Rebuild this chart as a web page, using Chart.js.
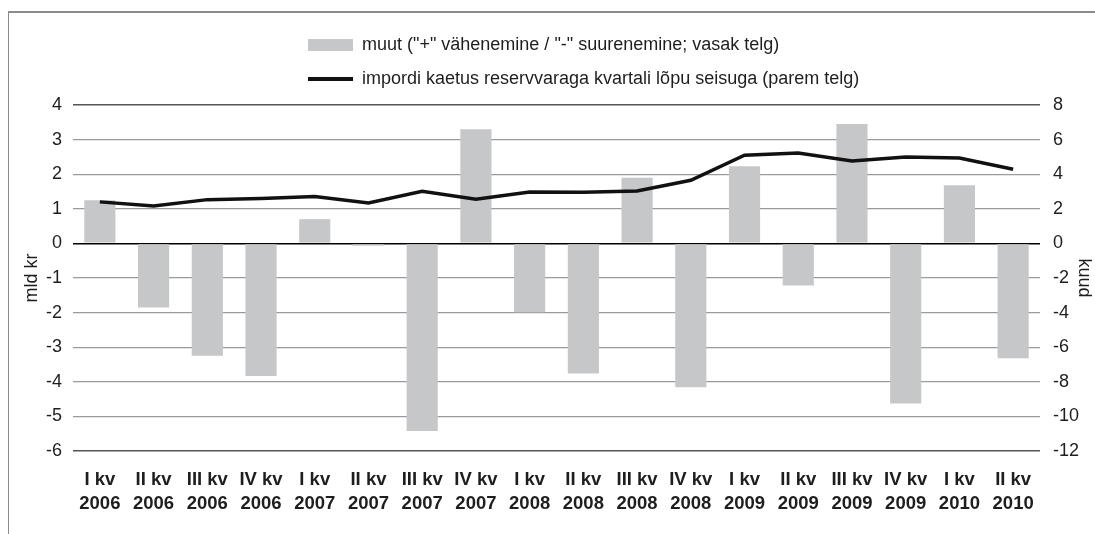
<!DOCTYPE html>
<html>
<head>
<meta charset="utf-8">
<script src="https://cdn.jsdelivr.net/npm/chart.js@4/dist/chart.umd.min.js"></script>
<style>
  html, body { margin: 0; padding: 0; background: #fff; }
  #wrap { position: relative; width: 1095px; height: 534px; overflow: hidden; background: #fff; }
  #frame { position: absolute; left: 8px; top: 11px; width: 1200px; height: 600px;
           border-top: 2px solid #8c8c8c; border-left: 1.5px solid #8c8c8c; }
  canvas { position: absolute; left: 0; top: 0; }
</style>
</head>
<body>
<div id="wrap">
  <div id="frame"></div>
  <canvas id="c" width="1095" height="534"></canvas>
</div>
<script>
const categories = [
  ["I kv", "2006"], ["II kv", "2006"], ["III kv", "2006"], ["IV kv", "2006"],
  ["I kv", "2007"], ["II kv", "2007"], ["III kv", "2007"], ["IV kv", "2007"],
  ["I kv", "2008"], ["II kv", "2008"], ["III kv", "2008"], ["IV kv", "2008"],
  ["I kv", "2009"], ["II kv", "2009"], ["III kv", "2009"], ["IV kv", "2009"],
  ["I kv", "2010"], ["II kv", "2010"]
];
const muut = [1.25, -1.85, -3.25, -3.83, 0.70, -0.07, -5.42, 3.30, -1.99,
              -3.76, 1.90, -4.16, 2.23, -1.22, 3.45, -4.63, 1.68, -3.32];
const kaetus = [2.40, 2.16, 2.53, 2.59, 2.71, 2.34, 3.01, 2.55, 2.97,
                2.96, 3.03, 3.65, 5.10, 5.23, 4.77, 5.00, 4.93, 4.29];
const leftTicks = [-6, -5, -4, -3, -2, -1, 0, 1, 2, 3, 4];
const rightTicks = [-12, -10, -8, -6, -4, -2, 0, 2, 4, 6, 8];
const seriesLabels = [
  'muut ("+" vähenemine / "-" suurenemine; vasak telg)',
  'impordi kaetus reservvaraga kvartali lõpu seisuga (parem telg)'
];

const FONT = "'Liberation Sans', Arial, Helvetica, sans-serif";
const TEXT = '#1e1e1e';

const customLegend = {
  id: 'customLegend',
  afterDraw(chart) {
    const ctx = chart.ctx;
    const x0 = 308, boxW = 45, textX = 362;
    const rows = [45, 79];
    ctx.save();
    ctx.font = '18px ' + FONT;
    ctx.textBaseline = 'middle';
    ctx.textAlign = 'left';
    chart.data.datasets.forEach((ds, i) => {
      const y = rows[i];
      if (ds.type === 'bar') {
        ctx.fillStyle = ds.backgroundColor;
        ctx.fillRect(x0, y - 6, boxW, 12);
      } else {
        ctx.strokeStyle = ds.borderColor;
        ctx.lineWidth = 4;
        ctx.beginPath();
        ctx.moveTo(x0, y);
        ctx.lineTo(x0 + boxW, y);
        ctx.stroke();
      }
      ctx.fillStyle = TEXT;
      ctx.fillText(ds.label, textX, y);
    });
    ctx.restore();
  }
};

new Chart(document.getElementById('c'), {
  data: {
    labels: categories,
    datasets: [
      {
        type: 'bar',
        label: seriesLabels[0],
        data: muut,
        yAxisID: 'y',
        backgroundColor: '#c6c7c9',
        categoryPercentage: 1.0,
        barPercentage: 0.58,
        order: 1
      },
      {
        type: 'line',
        label: seriesLabels[1],
        data: kaetus,
        yAxisID: 'y1',
        borderColor: '#111111',
        borderWidth: 3.5,
        pointRadius: 0,
        tension: 0,
        order: 0
      }
    ]
  },
  options: {
    responsive: false,
    animation: false,
    layout: { padding: { top: 105, left: 0, right: 0, bottom: 0 } },
    plugins: {
      legend: { display: false },
      tooltip: { enabled: false }
    },
    scales: {
      x: {
        grid: { display: false },
        border: { display: false },
        ticks: {
          autoSkip: false,
          maxRotation: 0,
          color: TEXT,
          padding: 9,
          font: { family: FONT, size: 18.5, weight: 'bold', lineHeight: 1.28 }
        },
        afterFit(scale) { scale.height = 83; }
      },
      y: {
        position: 'left',
        min: -6, max: 4,
        afterBuildTicks(scale) { scale.ticks = leftTicks.map(v => ({ value: v })); },
        grid: {
          drawTicks: false,
          color(ctx) {
            const v = ctx.tick && ctx.tick.value;
            if (v === 0) return '#000000';
            if (v === 4 || v === -6) return '#555555';
            return '#9a9a9a';
          },
          lineWidth(ctx) {
            const v = ctx.tick && ctx.tick.value;
            if (v === 0) return 1.6;
            if (v === 4 || v === -6) return 1.6;
            return 1.3;
          }
        },
        border: { display: false },
        ticks: { color: TEXT, padding: 11, font: { family: FONT, size: 18 } },
        title: {
          display: true, text: 'mld kr', color: TEXT,
          padding: { top: 21, bottom: 0 },
          font: { family: FONT, size: 18 }
        },
        afterFit(scale) { scale.width = 73; }
      },
      y1: {
        position: 'right',
        min: -12, max: 8,
        afterBuildTicks(scale) { scale.ticks = rightTicks.map(v => ({ value: v })); },
        grid: { display: false, drawTicks: false },
        border: { display: false },
        ticks: { color: TEXT, padding: 13, font: { family: FONT, size: 18 } },
        title: {
          display: true, text: 'kuud', color: TEXT,
          padding: { top: 0, bottom: 0 },
          font: { family: FONT, size: 18 }
        },
        afterFit(scale) { scale.width = 55; }
      }
    }
  },
  plugins: [customLegend]
});
</script>
</body>
</html>
